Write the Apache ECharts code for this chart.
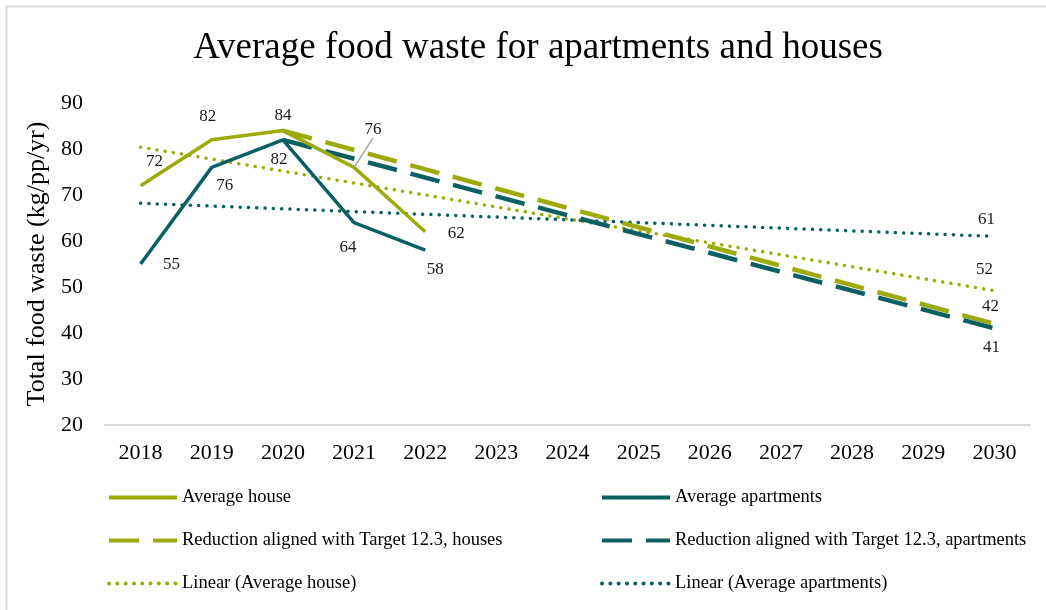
<!DOCTYPE html>
<html>
<head>
<meta charset="utf-8">
<script src="https://cdn.jsdelivr.net/npm/echarts@6/dist/echarts.min.js"></script>
<style>
  html, body { margin: 0; padding: 0; background: #fff; }
  #chart { width: 1046px; height: 610px; }
</style>
</head>
<body>
<div id="chart"></div>
<script>
// Years on the category axis
const years = ['2018', '2019', '2020', '2021', '2022', '2023', '2024', '2025', '2026', '2027', '2028', '2029', '2030'];

// Measured averages (kg per person per year)
const avgHouse = [72, 82, 84, 76, 62];
const avgApartments = [55, 76, 82, 64, 58];

// Target 12.3 reduction paths: from the 2020 value to half of it in 2030
const targetHouse = [null, null, 84, null, null, null, null, null, null, null, null, null, 42];
const targetApartments = [null, null, 82, null, null, null, null, null, null, null, null, null, 41];

// Linear trend lines fitted to 2018-2022, start and end values
const trendHouse = [80.4, null, null, null, null, null, null, null, null, null, null, null, 49.2];
const trendApartments = [68.2, null, null, null, null, null, null, null, null, null, null, null, 61];

// Stand-alone annotation near the end of the house trend
const houseNote = [['2030', 52]];

// Y axis range
const yMin = 20, yMax = 90, yStep = 10;

const HOUSE = '#9cab0a';
const APART = '#0a5f62';
const FONT = '"Liberation Serif", "Times New Roman", serif';

// Label shifts (px from the point), per series and data index
const labelShift = {
  0: { 0: [14, -24], 1: [-4, -23], 2: [0, -15], 3: [19, -38], 4: [31, 2] },
  1: { 0: [31, 1], 1: [13, 18], 2: [-4, 20], 3: [-6, 25], 4: [10, 19] },
  2: { 12: [-4, -17] },
  3: { 12: [-3, 19] },
  5: { 12: [-8, -17] },
  6: { 0: [-10, -8] }
};

function placeLabel(p) {
  const s = labelShift[p.seriesIndex];
  const d = s && s[p.dataIndex];
  return d ? { dx: d[0], dy: d[1] } : {};
}

const labelStyle = {
  show: true, position: 'inside',
  fontFamily: FONT, fontSize: 17, color: '#1a1a1a',
  textBorderWidth: 0
};

// Show labels only where a shift is defined
function withLabels(values, seriesIndex) {
  const s = labelShift[seriesIndex] || {};
  return values.map((v, i) => {
    if (v == null) return null;
    const item = { value: v };
    if (!s[i]) item.label = { show: false };
    return item;
  });
}

const houseData = withLabels(avgHouse, 0);
// 2021 house label sits up and to the right, tied back with a leader line
houseData[3].labelLine = { show: true, lineStyle: { color: '#a6a6a6', width: 1.5 } };

const base = {
  type: 'line',
  symbol: 'circle',
  symbolSize: 0.1,
  showSymbol: true,
  connectNulls: true,
  silent: true,
  animation: false,
  label: labelStyle,
  labelLayout: placeLabel
};

const legendCommon = {
  orient: 'vertical', top: 483, itemGap: 24,
  itemWidth: 68, itemHeight: 18,
  itemStyle: { opacity: 0 },
  lineStyle: { width: 4 },
  textStyle: { fontFamily: FONT, fontSize: 18.5, color: '#000' }
};

const chart = echarts.init(document.getElementById('chart'), null, { renderer: 'canvas' });

chart.setOption({
  animation: false,
  backgroundColor: '#fff',
  title: {
    text: 'Average food waste for apartments and houses',
    left: 533,
    textAlign: 'center',
    top: 25,
    textStyle: { fontFamily: FONT, fontSize: 37, fontWeight: 'normal', color: '#000' }
  },
  grid: { left: 105, right: 16, top: 103, bottom: 185, containLabel: false },
  xAxis: {
    type: 'category',
    data: years,
    boundaryGap: true,
    axisLine: { lineStyle: { color: '#d9d9d9', width: 2 } },
    axisTick: { show: false },
    axisLabel: { fontFamily: FONT, fontSize: 22, color: '#000', margin: 17 }
  },
  yAxis: {
    type: 'value',
    min: yMin, max: yMax, interval: yStep,
    name: 'Total food waste (kg/pp/yr)',
    nameLocation: 'middle',
    nameGap: 49,
    nameTextStyle: { fontFamily: FONT, fontSize: 26, color: '#000' },
    axisLine: { show: false },
    axisTick: { show: false },
    splitLine: { show: false },
    axisLabel: { fontFamily: FONT, fontSize: 22, color: '#000', margin: 22 }
  },
  legend: [
    Object.assign({}, legendCommon, {
      left: 102,
      data: ['Average house', 'Reduction aligned with Target 12.3, houses', 'Linear (Average house)']
    }),
    Object.assign({}, legendCommon, {
      left: 595,
      data: ['Average apartments', 'Reduction aligned with Target 12.3, apartments', 'Linear (Average apartments)']
    })
  ],
  series: [
    Object.assign({}, base, {
      name: 'Average house',
      data: houseData,
      z: 6,
      itemStyle: { color: HOUSE },
      lineStyle: { color: HOUSE, width: 3.5 }
    }),
    Object.assign({}, base, {
      name: 'Average apartments',
      data: withLabels(avgApartments, 1),
      z: 6,
      itemStyle: { color: APART },
      lineStyle: { color: APART, width: 3.5 }
    }),
    Object.assign({}, base, {
      name: 'Reduction aligned with Target 12.3, houses',
      data: withLabels(targetHouse, 2),
      z: 4,
      itemStyle: { color: HOUSE },
      lineStyle: { color: HOUSE, width: 4.5, type: [30, 14] }
    }),
    Object.assign({}, base, {
      name: 'Reduction aligned with Target 12.3, apartments',
      data: withLabels(targetApartments, 3),
      z: 4,
      itemStyle: { color: APART },
      lineStyle: { color: APART, width: 4.5, type: [30, 14] }
    }),
    Object.assign({}, base, {
      name: 'Linear (Average house)',
      data: withLabels(trendHouse, 4),
      z: 3,
      itemStyle: { color: HOUSE },
      lineStyle: { color: HOUSE, width: 3.5, type: [0.1, 8.2], cap: 'round' }
    }),
    Object.assign({}, base, {
      name: 'Linear (Average apartments)',
      data: withLabels(trendApartments, 5),
      z: 3,
      itemStyle: { color: APART },
      lineStyle: { color: APART, width: 3.5, type: [0.1, 8.2], cap: 'round' }
    }),
    {
      type: 'scatter',
      name: 'note',
      data: houseNote,
      symbolSize: 0.1,
      silent: true,
      itemStyle: { color: HOUSE, opacity: 1 },
      label: Object.assign({}, labelStyle, { formatter: p => String(p.value[1]) }),
      labelLayout: placeLabel
    }
  ],
  graphic: [
    {
      type: 'polyline',
      shape: { points: [[6.5, 700], [6.5, 6.5], [1100, 6.5]] },
      style: { stroke: '#d9d9d9', lineWidth: 2, fill: null },
      silent: true
    }
  ]
});
</script>
</body>
</html>
